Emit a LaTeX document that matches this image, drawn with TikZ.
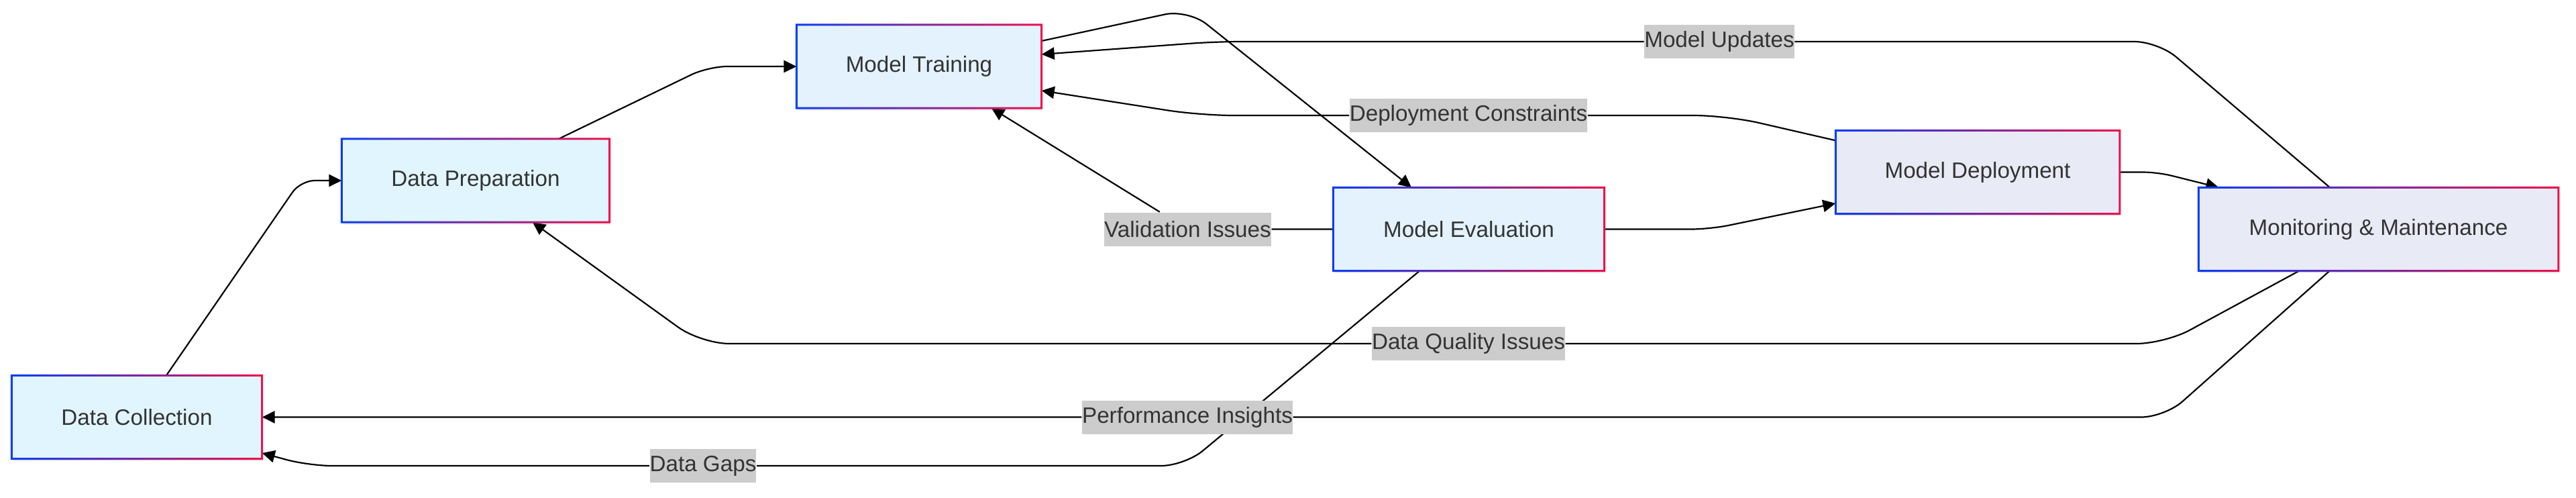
\documentclass[tikz,border=0pt]{standalone}
\usepackage{fontspec}
\setmainfont{Liberation Sans}
\usepackage{xcolor}
\definecolor{txt}{HTML}{333333}
\definecolor{tagbg}{HTML}{CCCCCC}
\definecolor{cyanbg}{HTML}{E1F5FE}
\definecolor{bluebg}{HTML}{E3F2FD}
\definecolor{indigobg}{HTML}{E8EAF6}
\definecolor{edgeblue}{HTML}{0A3CF5}
\definecolor{edgered}{HTML}{F0104A}
\tikzset{stage/.style={minimum height=1.23cm, inner sep=0pt, text=txt,
   font=\fontsize{9.45}{11}\selectfont,
   drop shadow={opacity=0.12, shadow xshift=0.02cm, shadow yshift=-0.04cm}},
 tag/.style={fill=tagbg, inner xsep=0pt, inner ysep=0pt, minimum height=0.5cm,
   text=txt, font=\fontsize{9.45}{11}\selectfont},
 flow/.style={draw=black, line width=0.62pt, -{Triangle[length=5.4pt,width=5.2pt]}},
 }
\usetikzlibrary{arrows.meta}
\usetikzlibrary{backgrounds}
\usetikzlibrary{shadows}

\begin{document}
\begin{tikzpicture}
        \useasboundingbox (0,0) rectangle (38.4,-7.41);

        \node[stage, fill=cyanbg, minimum width=3.72cm] (dc) at (2.04,-6.215) {Data Collection};
        \node[stage, fill=cyanbg, minimum width=3.98cm] (dp) at (7.09,-2.69) {Data Preparation};
        \node[stage, fill=bluebg, minimum width=3.64cm] (mt) at (13.70,-0.99) {Model Training};
        \node[stage, fill=bluebg, minimum width=4.03cm] (me) at (21.895,-3.415) {Model Evaluation};
        \node[stage, fill=indigobg, minimum width=4.22cm] (md) at (29.48,-2.565) {Model Deployment};
        \node[stage, fill=indigobg, minimum width=5.35cm] (mm) at (35.455,-3.415) {Monitoring \& Maintenance};

        \foreach \n in {dc,dp,mt,me,md,mm} {
            \shade[left color=edgeblue, right color=edgered, even odd rule]
                ([shift={(-0.015,-0.015)}]\n.south west) rectangle ([shift={(0.015,0.015)}]\n.north east)
                ([shift={(0.015,0.015)}]\n.south west) rectangle ([shift={(-0.015,-0.015)}]\n.north east);
        }

        \node[tag] (lupd) at (25.63,-0.62) {Model Updates};
        \node[tag] (lcon) at (21.89,-1.72) {Deployment Constraints};
        \node[tag] (lval) at (17.705,-3.415) {Validation Issues};
        \node[tag] (lqual) at (21.89,-5.12) {Data Quality Issues};
        \node[tag] (lperf) at (17.70,-6.215) {Performance Insights};
        \node[tag] (lgap) at (10.48,-6.94) {Data Gaps};

        \begin{pgfonlayer}{background}
            \fill[white] (0,0) rectangle (38.4,-7.41);
            \draw[flow, rounded corners=6pt] ([xshift=0.44cm]dc.north) -- (4.48,-2.69) -- (dp.west);
            \draw[flow, rounded corners=8pt] ([xshift=1.24cm]dp.north) -- (10.56,-0.99) -- (mt.west);
            \draw[flow, rounded corners=10pt] ([yshift=0.38cm]mt.east) -- (17.71,-0.14) -- ([xshift=-0.855cm]me.north);
            \draw[flow, rounded corners=8pt] (me.east) -- (25.49,-3.415) -- ([yshift=-0.465cm]md.west);
            \draw[flow, rounded corners=6pt] (md.east) -- (32.16,-2.565) -- ([xshift=0.30cm]mm.north west);
            \draw[flow, rounded corners=10pt] ([xshift=-0.725cm]mm.north) -- (32.17,-0.62) -- (lupd)
                -- (18.13,-0.62) -- ([yshift=0.18cm]mt.east);
            \draw[flow, rounded corners=14pt] ([yshift=-0.15cm]md.north west) -- (25.74,-1.72) -- (lcon)
                -- (17.89,-1.72) -- ([yshift=-0.36cm]mt.east);
            \draw[flow] (me.west) -- (lval) -- ([xshift=1.08cm]mt.south);
            \draw[flow, rounded corners=12pt] ([xshift=-1.185cm]mm.south) -- (32.27,-5.12) -- (lqual)
                -- (10.45,-5.12) -- ([xshift=0.85cm]dp.south);
            \draw[flow, rounded corners=10pt] ([xshift=-0.73cm]mm.south) -- (32.27,-6.215) -- (lperf) -- (dc.east);
            \draw[flow, rounded corners=10pt] ([xshift=-0.735cm]me.south) -- (17.66,-6.94) -- (lgap)
                -- (4.60,-6.94) -- ([yshift=-0.535cm]dc.east);
        \end{pgfonlayer}
    \end{tikzpicture}
\end{document}
